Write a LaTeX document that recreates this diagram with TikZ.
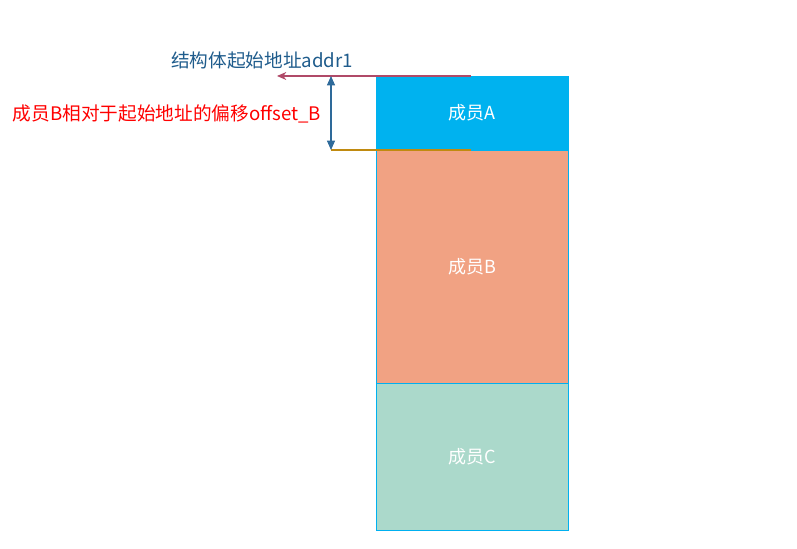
\documentclass[tikz,border=0pt]{standalone}
\usepackage{fontspec}
\setmainfont{Noto Sans CJK SC}
\usetikzlibrary{arrows.meta}
\definecolor{cA}{HTML}{00B2EF}
\definecolor{cB}{HTML}{F1A283}
\definecolor{cC}{HTML}{ABD9CB}
\definecolor{edge}{HTML}{00B0F0}
\definecolor{lineTop}{HTML}{B04A68}
\definecolor{lineBot}{HTML}{C08A10}
\definecolor{dimc}{HTML}{2E6A9A}
\definecolor{topText}{HTML}{1F5C8C}
\tikzset{
  memb/.style={draw=edge, line width=0.6pt, minimum width=192*0.75pt, inner sep=0pt},
  mlbl/.style={text=white, inner sep=0pt, font=\fontsize{13.5}{16}\selectfont},
  lbl/.style={inner sep=0pt, font=\fontsize{14}{16}\selectfont}
}
\begin{document}
\begin{tikzpicture}[x=0.75pt,y=-0.75pt]
\useasboundingbox (0,0) rectangle (797,549);
\node[memb, fill=cB, minimum height=233*0.75pt] (B) at (472,266.5) {};
\node[memb, fill=cC, minimum height=147*0.75pt] (C) at (472,456.5) {};
\node[memb, draw=cA, fill=cA, minimum height=74*0.75pt] (A) at (472,113) {};
\node[mlbl] (lA) at (A) {成员A};
\node[mlbl] (lB) at (B) {成员B};
\node[mlbl] (lC) at (C) {成员C};
\coordinate (t1) at (471,76);
\coordinate (t0) at (277,76);
\coordinate (b1) at (471,150);
\coordinate (b0) at (331,150);
\coordinate (d0) at (331,76);
\draw[lineTop, line width=0.8pt, -{Stealth[length=7pt,width=6pt]}] (t1) -- (t0);
\draw[lineBot, line width=0.8pt] (b1) -- (b0);
\draw[dimc, line width=0.8pt, {Triangle[length=7pt,width=6pt]}-{Triangle[length=7pt,width=6pt]}] (d0) -- (b0);
\node[lbl, text=topText] (tt) at (262,60) {结构体起始地址addr1};
\node[lbl, text=red] (rt) at (167,114) {成员B相对于起始地址的偏移offset\_B};
\end{tikzpicture}
\end{document}
